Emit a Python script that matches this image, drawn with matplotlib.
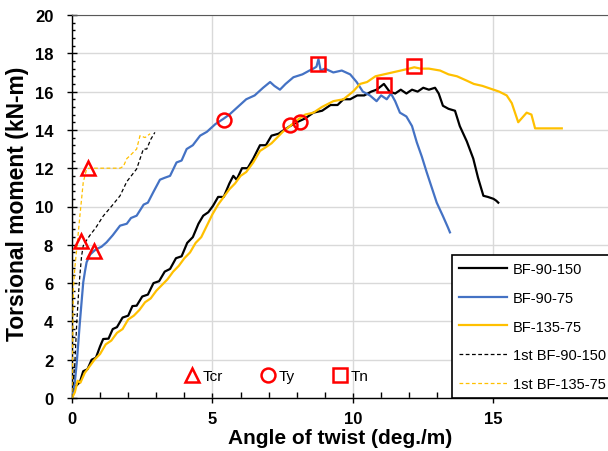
import matplotlib
matplotlib.use("Agg")
import matplotlib.pyplot as plt
from matplotlib.lines import Line2D
from matplotlib.ticker import MultipleLocator, FixedLocator

plt.rcParams['font.family'] = ['Liberation Sans', 'DejaVu Sans']

# ---- data (angle of twist deg./m, torsional moment kN-m) ----
bf90150_x = [0, 0.12, 0.28, 0.4, 0.55, 0.7, 0.85, 1.0, 1.11, 1.3, 1.45, 1.6, 1.8, 2.0, 2.15, 2.3, 2.5,
             2.7, 2.9, 3.1, 3.3, 3.49, 3.7, 3.9, 4.1, 4.3, 4.5, 4.67, 4.85, 5.02, 5.2, 5.4, 5.6, 5.74,
             5.86, 6.05, 6.25, 6.45, 6.69, 6.9, 7.1, 7.35, 7.55, 7.76, 8.0, 8.3, 8.59, 8.9, 9.2, 9.45,
             9.66, 9.9, 10.15, 10.4, 10.65, 10.84, 11.1, 11.3, 11.5, 11.7, 11.9, 12.1, 12.3, 12.5, 12.7,
             12.92, 13.05, 13.2, 13.4, 13.63, 13.8, 14.05, 14.28, 14.45, 14.64, 14.8, 15.0, 15.1, 15.17]
bf90150_y = [0, 0.6, 0.83, 1.4, 1.5, 2.0, 2.1, 2.7, 3.08, 3.1, 3.6, 3.7, 4.2, 4.3, 4.8, 4.82, 5.3,
             5.4, 6.0, 6.1, 6.6, 6.74, 7.3, 7.4, 8.1, 8.4, 9.1, 9.52, 9.7, 10.04, 10.5, 10.5, 11.2, 11.6,
             11.4, 12.0, 12.0, 12.5, 13.2, 13.2, 13.7, 13.8, 14.0, 14.2, 14.4, 14.6, 14.9, 15.0, 15.3, 15.3,
             15.6, 15.6, 15.8, 15.8, 16.0, 16.1, 16.4, 16.0, 15.9, 16.1, 15.9, 16.1, 16.0, 16.2, 16.1,
             16.2, 15.9, 15.26, 15.1, 15.0, 14.2, 13.4, 12.5, 11.5, 10.56, 10.5, 10.4, 10.3, 10.2]

bf9075_x = [0, 0.1, 0.17, 0.23, 0.28, 0.34, 0.4, 0.46, 0.52, 0.65, 0.8, 0.88, 1.05, 1.23, 1.45, 1.71,
            1.95, 2.1, 2.3, 2.55, 2.7, 2.89, 3.13, 3.3, 3.49, 3.72, 3.9, 4.08, 4.3, 4.56, 4.8, 5.1, 5.38,
            5.6, 5.9, 6.2, 6.5, 6.8, 7.05, 7.2, 7.4, 7.6, 7.88, 8.2, 8.45, 8.59, 8.7, 8.77, 8.85, 9.0,
            9.3, 9.6, 9.9, 10.13, 10.35, 10.6, 10.84, 11.0, 11.2, 11.35, 11.5, 11.67, 11.9, 12.1, 12.27,
            12.45, 12.62, 12.8, 12.98, 13.2, 13.38, 13.45]
bf9075_y = [0, 0.8, 1.86, 3.0, 3.95, 5.0, 6.04, 6.6, 7.09, 7.5, 7.7, 7.78, 7.9, 8.13, 8.5, 9.0,
            9.1, 9.4, 9.52, 10.1, 10.2, 10.74, 11.4, 11.5, 11.6, 12.3, 12.4, 13.0, 13.2, 13.7, 13.9, 14.3, 14.57,
            14.8, 15.2, 15.6, 15.8, 16.2, 16.5, 16.3, 16.1, 16.4, 16.75, 16.9, 17.1, 17.2, 17.3, 17.7, 17.1, 17.2,
            17.0, 17.1, 16.9, 16.5, 16.0, 15.8, 15.5, 15.8, 15.6, 15.9, 15.5, 14.9, 14.7, 14.2, 13.35,
            12.6, 11.8, 11.0, 10.2, 9.5, 8.9, 8.65]

bf13575_x = [0, 0.1, 0.2, 0.3, 0.45, 0.6, 0.8, 1.0, 1.2, 1.4, 1.6, 1.8, 2.0, 2.2, 2.4, 2.6, 2.8, 3.0,
             3.2, 3.4, 3.6, 3.8, 4.0, 4.2, 4.4, 4.6, 4.8, 5.0, 5.2, 5.4, 5.6, 5.8, 6.0, 6.2, 6.45, 6.69,
             6.9, 7.1, 7.3, 7.5, 7.76, 8.0, 8.3, 8.59, 8.9, 9.3, 9.66, 10.0, 10.25, 10.5, 10.8, 11.1, 11.4,
             11.7, 12.0, 12.18, 12.4, 12.7, 13.1, 13.4, 13.7, 14.05, 14.3, 14.6, 15.0, 15.2, 15.47, 15.65,
             15.88, 16.0, 16.18, 16.35, 16.48, 16.8, 17.43]
bf13575_y = [0, 0.3, 0.9, 0.8, 1.3, 1.6, 2.0, 2.3, 2.8, 3.0, 3.4, 3.6, 4.1, 4.3, 4.6, 5.0, 5.2, 5.6,
             5.9, 6.2, 6.6, 6.9, 7.3, 7.6, 8.1, 8.4, 9.0, 9.6, 10.1, 10.5, 10.9, 11.2, 11.6, 11.8, 12.3, 12.9,
             13.1, 13.3, 13.6, 13.9, 14.2, 14.5, 14.8, 14.9, 15.2, 15.5, 15.6, 16.0, 16.4, 16.5, 16.8, 16.9, 17.0,
             17.1, 17.2, 17.27, 17.2, 17.2, 17.1, 16.9, 16.8, 16.57, 16.4, 16.3, 16.1, 16.0, 15.8, 15.4,
             14.4, 14.6, 14.9, 14.8, 14.08, 14.08, 14.08]

first_bf90150_x = [0, 0.1, 0.17, 0.23, 0.28, 0.34, 0.4, 0.5, 0.64, 0.85, 1.11, 1.4, 1.71, 1.95, 2.3,
                   2.54, 2.66, 2.8, 2.95]
first_bf90150_y = [0, 1.8, 3.95, 5.4, 6.4, 7.4, 7.95, 8.2, 8.5, 8.9, 9.5, 10.0, 10.56, 11.3, 11.96,
                   13.0, 13.0, 13.5, 13.87]

first_bf13575_x = [0, 0.02, 0.05, 0.1, 0.17, 0.28, 0.4, 0.52, 0.6, 1.0, 1.4, 1.71, 1.83, 1.95, 2.06,
                   2.3, 2.42, 2.6, 2.78]
first_bf13575_y = [0, 2.5, 5.7, 6.8, 7.8, 9.5, 11.26, 11.96, 12.0, 12.0, 12.0, 12.0, 12.1, 12.5, 12.65,
                   13.0, 13.7, 13.6, 13.8]

tcr_x = [0.58, 0.32, 0.8]
tcr_y = [12.0, 8.18, 7.66]
ty_x = [5.4, 7.76, 8.1]
ty_y = [14.5, 14.25, 14.4]
tn_x = [8.74, 11.1, 12.18]
tn_y = [17.45, 16.35, 17.35]

series_labels = ['BF-90-150', 'BF-90-75', 'BF-135-75', '1st BF-90-150', '1st BF-135-75']
marker_labels = ['Tcr', 'Ty', 'Tn']
x_major_ticks = [0, 5, 10, 15]

black = '#000000'
blue = '#4472C4'
yellow = '#FFC000'
red = '#FF0000'

W, H = 608, 452
fig = plt.figure(figsize=(W / 100, H / 100), dpi=100)
ax = fig.add_axes([72 / W, 53 / H, 562 / W, 383 / H])

ax.plot(bf90150_x, bf90150_y, color=black, lw=1.6, label=series_labels[0], zorder=3)
ax.plot(bf9075_x, bf9075_y, color=blue, lw=1.6, label=series_labels[1], zorder=3)
ax.plot(bf13575_x, bf13575_y, color=yellow, lw=1.6, label=series_labels[2], zorder=3)
ax.plot(first_bf90150_x, first_bf90150_y, color=black, lw=0.9, ls=(0, (3, 2)), label=series_labels[3], zorder=3)
ax.plot(first_bf13575_x, first_bf13575_y, color=yellow, lw=0.9, ls=(0, (3, 2)), label=series_labels[4], zorder=3)

mk = dict(ls='none', markerfacecolor='none', markeredgecolor=red, markeredgewidth=1.8, markersize=10, zorder=5)
ax.plot(tcr_x, tcr_y, marker='^', **mk)
ax.plot(ty_x, ty_y, marker='o', **mk)
ax.plot(tn_x, tn_y, marker='s', **mk)

ax.set_xlim(0, 20)
ax.set_ylim(0, 20)
ax.xaxis.set_major_locator(FixedLocator(x_major_ticks))
ax.xaxis.set_minor_locator(MultipleLocator(1))
ax.yaxis.set_major_locator(MultipleLocator(2))
ax.yaxis.set_minor_locator(MultipleLocator(0.4))
ax.grid(True, which='major', color='#d9d9d9', lw=1.0, zorder=0)
ax.set_axisbelow(True)

ax.tick_params(axis='x', which='major', direction='inout', length=7, width=1, labelsize=12, pad=6)
ax.tick_params(axis='x', which='minor', direction='in', length=4, width=1)
ax.tick_params(axis='y', which='major', direction='inout', length=7, width=1, labelsize=12, pad=10)
ax.tick_params(axis='y', which='minor', direction='in', length=2.5, width=1)
for lab in ax.get_xticklabels() + ax.get_yticklabels():
    lab.set_fontweight('bold')

for s in ['left', 'bottom']:
    ax.spines[s].set_color(black)
    ax.spines[s].set_linewidth(1.0)
ax.spines['top'].set_color('#595959')
ax.spines['right'].set_visible(False)

ax.set_xlabel('Angle of twist (deg./m)', fontsize=15, fontweight='bold')
ax.xaxis.set_label_coords((340 - 72) / 562, -(429 - 399) / 383)
ax.set_ylabel('Torsional moment (kN-m)', fontsize=16.5, fontweight='bold')
ax.yaxis.set_label_coords(-(72 - 29) / 562, 0.51)

leg = ax.legend(loc='lower left', bbox_to_anchor=((452 - 72) / 562, 0), borderaxespad=0,
                fontsize=10.5, frameon=True, fancybox=False, edgecolor=black, framealpha=1,
                handlelength=3.3, handletextpad=0.35, labelspacing=1.0, borderpad=0.5)
leg.get_frame().set_linewidth(1.2)
ax.add_artist(leg)

mh = [Line2D([], [], marker=m, ls='none', markerfacecolor='none', markeredgecolor=red,
             markeredgewidth=1.8, markersize=10) for m in ['^', 'o', 's']]
ax.legend(mh, marker_labels, loc='center left', bbox_to_anchor=((184 - 72) / 562, 22 / 383),
          ncol=3, frameon=False, fontsize=11, handlelength=1.0, handletextpad=0.2,
          columnspacing=2.45, borderaxespad=0, borderpad=0)

fig.savefig('out.png', dpi=100)
